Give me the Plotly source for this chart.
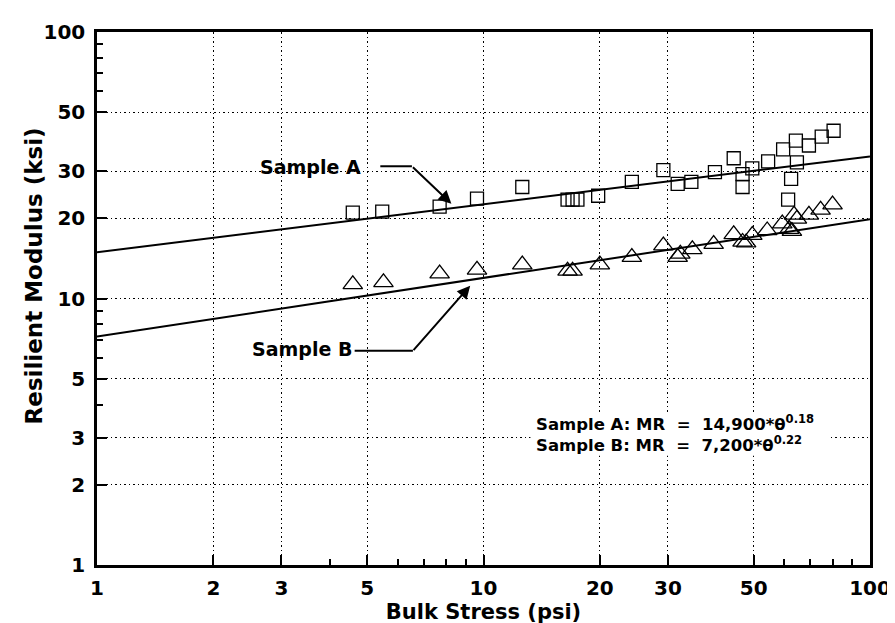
import plotly.graph_objects as go

# ---- data ----
a_stress = [4.59, 5.47, 7.70, 9.62, 12.6, 16.5, 17.0, 17.5, 19.8, 24.2, 29.2, 31.8, 34.5,
            39.7, 44.4, 46.8, 46.8, 49.6, 54.5, 59.6, 64.3, 69.5, 75.0, 80.5, 64.7, 62.5, 61.4]
a_mr = [21.0, 21.2, 22.1, 23.7, 26.2, 23.5, 23.5, 23.5, 24.3, 27.4, 30.3, 26.9, 27.4,
        29.8, 33.6, 29.3, 26.2, 30.8, 32.7, 36.3, 39.1, 37.5, 40.5, 42.6, 32.4, 28.1, 23.5]

b_stress = [4.59, 5.51, 7.70, 9.62, 12.6, 16.5, 17.0, 20.0, 24.2, 29.2, 31.8, 32.3, 34.7,
            39.4, 44.4, 46.8, 47.8, 49.6, 54.2, 59.3, 61.8, 62.8, 63.6, 64.7, 69.5, 74.5, 80.0]
b_mr = [11.3, 11.5, 12.4, 12.8, 13.4, 12.7, 12.7, 13.4, 14.3, 15.8, 14.3, 14.7, 15.3,
        16.0, 17.4, 16.3, 16.2, 17.3, 18.0, 19.1, 18.2, 17.9, 20.6, 19.9, 20.6, 21.5, 22.5]

# fitted power laws MR = k * theta^n (k in ksi)
fit_a = {"k": 14.9, "n": 0.18}
fit_b = {"k": 7.2, "n": 0.22}
fit_x = [1, 100]

x_ticks = [1, 2, 3, 5, 10, 20, 30, 50, 100]
x_ticktext = ["1", "2", "3", "5", "10", "20", "30", "50", "100"]
y_ticks = [1, 2, 3, 5, 10, 20, 30, 50, 100]
y_ticktext = ["1", "2", "3", "5", "10", "20", "30", "50", "100"]
minor_ticks = [4, 6, 7, 8, 9, 60, 70, 80, 90]

FONT = "DejaVu Sans"

fig = go.Figure()

fig.add_trace(go.Scatter(
    x=fit_x, y=[fit_a["k"] * v ** fit_a["n"] for v in fit_x], mode="lines",
    line=dict(color="black", width=2), hoverinfo="skip"))
fig.add_trace(go.Scatter(
    x=fit_x, y=[fit_b["k"] * v ** fit_b["n"] for v in fit_x], mode="lines",
    line=dict(color="black", width=2), hoverinfo="skip"))

fig.add_trace(go.Scatter(
    x=a_stress, y=a_mr, mode="markers", name="Sample A",
    marker=dict(symbol="square-open", size=13, color="black", line=dict(width=1.3, color="black"))))
fig.add_trace(go.Scatter(
    x=b_stress, y=b_mr, mode="markers", name="Sample B",
    marker=dict(symbol="triangle-up-open", size=17, color="black", line=dict(width=1.3, color="black"))))

axis_common = dict(
    type="log", range=[0, 2], tickmode="array",
    ticks="inside", ticklen=10, tickwidth=2, tickcolor="black",
    showline=True, linecolor="black", linewidth=2.5, mirror=True,
    showgrid=True, gridcolor="black", gridwidth=1.3, griddash="1.5px,3px",
    zeroline=False,
    minor=dict(tickmode="array", tickvals=minor_ticks, ticks="inside", ticklen=6,
               tickwidth=1.5, tickcolor="black", showgrid=False),
    tickfont=dict(family=FONT, size=20, color="black", weight="bold"),
)

fig.update_layout(
    width=895, height=623,
    margin=dict(l=89, r=23, t=17, b=66),
    paper_bgcolor="white", plot_bgcolor="white",
    showlegend=False,
    font=dict(family=FONT, color="black"),
    xaxis=dict(axis_common, tickvals=x_ticks, ticktext=x_ticktext, ticklabelstandoff=3,
               title=dict(text="Bulk Stress (psi)", font=dict(family=FONT, size=21, weight="bold"),
                          standoff=0)),
    yaxis=dict(axis_common, tickvals=y_ticks, ticktext=y_ticktext, ticklabelstandoff=5),
)

# y-axis title (placed as in the reference, slightly above the axis centre)
fig.add_annotation(xref="paper", yref="paper", x=-0.082, y=0.5426, text="Resilient Modulus (ksi)",
                   textangle=-90, showarrow=False, xanchor="center", yanchor="middle",
                   font=dict(family=FONT, size=23, weight="bold"))

# white box behind the equations (hides the grid there)
fig.add_shape(type="rect", xref="paper", yref="paper", x0=0.5607, x1=0.9464, y0=0.205, y1=0.2833,
              fillcolor="white", line=dict(width=0), layer="above")

# callout leader lines (horizontal parts)
fig.add_shape(type="line", xref="paper", yref="paper", x0=0.3665, x1=0.4074, y0=0.7481, y1=0.7481,
              line=dict(color="black", width=2))
fig.add_shape(type="line", xref="paper", yref="paper", x0=0.3333, x1=0.4087, y0=0.4019, y1=0.4019,
              line=dict(color="black", width=2))

# arrows (diagonal parts)
fig.add_annotation(xref="paper", yref="paper", x=0.4585, y=0.6778, ax=-40, ay=-38,
                   showarrow=True, arrowhead=2, arrowsize=1.3, arrowwidth=2, arrowcolor="black", text="")
fig.add_annotation(xref="paper", yref="paper", x=0.4828, y=0.5241, ax=-58, ay=66,
                   showarrow=True, arrowhead=2, arrowsize=1.3, arrowwidth=2, arrowcolor="black", text="")

# labels
fig.add_annotation(xref="paper", yref="paper", x=0.2759, y=0.7463, text="Sample A", showarrow=False,
                   font=dict(family=FONT, size=19, weight="bold"), xanchor="center", yanchor="middle")
fig.add_annotation(xref="paper", yref="paper", x=0.2656, y=0.4056, text="Sample B", showarrow=False,
                   font=dict(family=FONT, size=19, weight="bold"), xanchor="center", yanchor="middle")

nb = "\u00a0"
eq_text = (f"Sample A: MR{nb}{nb}={nb}{nb}14,900*θ<sup>0.18</sup><br>"
           f"Sample B: MR{nb}{nb}={nb}{nb}7,200*θ<sup>0.22</sup>")
fig.add_annotation(xref="paper", yref="paper", x=0.5658, y=0.2472, text=eq_text, showarrow=False,
                   align="left", font=dict(family=FONT, size=16.5, weight="bold"),
                   xanchor="left", yanchor="middle")

fig.write_html("out.html")
